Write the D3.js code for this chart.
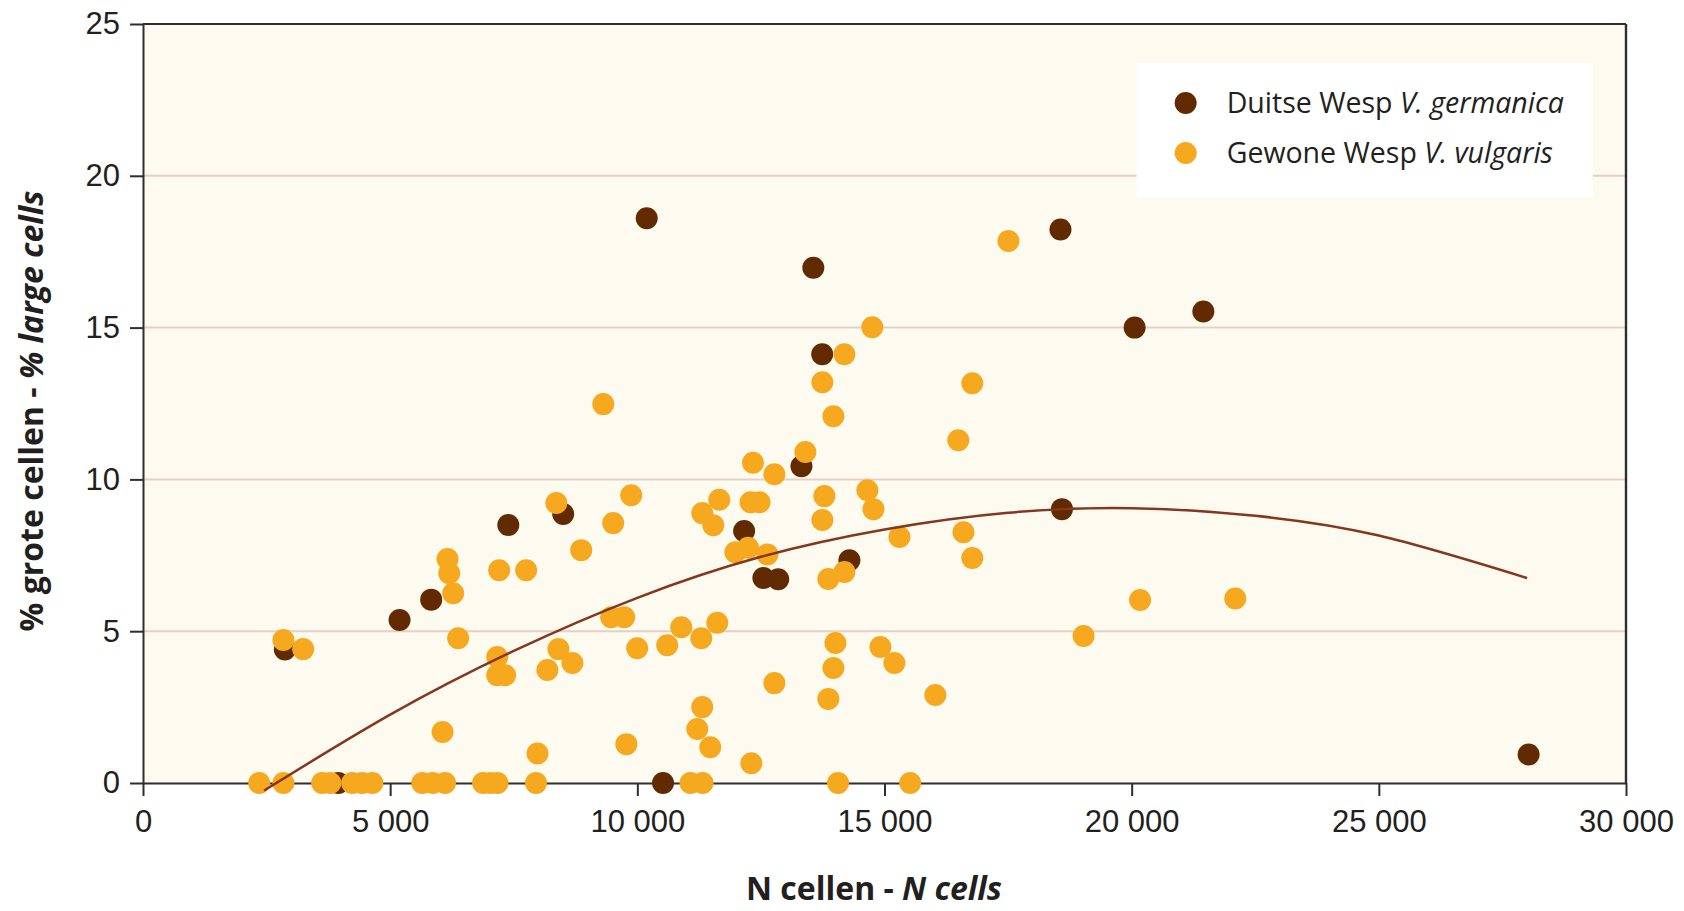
<!DOCTYPE html>
<html lang="en">
<head>
<meta charset="utf-8">
<style type="text/css">
    body { margin: 0; background: #fff; }
    svg { display: block; font-family: "Open Sans", "Noto Sans", sans-serif; }
    .axis text { fill: #231f20; font-size: 31px; }
    .axis path, .axis line { stroke: #2e2e2e; stroke-width: 2; }
    .grid line { stroke: #e7cfc5; stroke-width: 2; }
</style>
</head>
<body>
<svg width="1684" height="911"></svg>
<script src="https://d3js.org/d3.v7.min.js"></script>
<script type="text/javascript">

    // Duitse Wesp - V. germanica
    var germanicaX = [2870, 3950, 5190, 5830, 7390, 8500, 10190, 10520, 12160, 12550,
                      12850, 13320, 13560, 13740, 14290, 18560, 18590, 20060, 21450, 28030];
    var germanicaY = [4.4, 0, 5.37, 6.04, 8.5, 8.86, 18.6, 0, 8.3, 6.75,
                      6.71, 10.43, 16.97, 14.12, 7.34, 18.23, 9.02, 15.0, 15.53, 0.94];

    // Gewone Wesp - V. vulgaris
    var vulgarisX = [2350, 2840, 3625, 3790, 4230, 4430, 4640, 5650, 5860, 6110, 6880, 7030, 7170, 7950, 11075, 11320, 14060, 15520,
                     2840, 3240, 6060, 6160, 6195, 6275, 6375, 7165, 7165, 7326, 7205, 7751, 7980, 8180, 8403, 8686, 8362, 8865, 9311, 9512, 9876, 9471, 9734, 9778, 9997,
                     10604, 10888, 11293, 11617, 11313, 11212, 11475, 11313, 11536, 11658, 11983, 12240, 12630, 12290, 12472, 12340, 12772, 12772, 12306,
                     13399, 13743, 13743, 13783, 13864, 13864, 13966, 13966, 14007, 14188, 14188, 14654, 14753, 14776, 14917, 15200, 15302,
                     16028, 16493, 16597, 16776, 16776, 17507, 19028, 20170, 22096];
    var vulgarisY = [0, 0, 0, 0, 0, 0, 0, 0, 0, 0, 0, 0, 0, 0, 0, 0, 0, 0,
                     4.71, 4.41, 1.68, 7.38, 6.91, 6.25, 4.77, 4.15, 3.55, 3.55, 7.01, 7.01, 0.97, 3.72, 4.41, 3.95, 9.22, 7.67, 12.48, 8.56, 9.48, 5.46, 5.46, 1.28, 4.44,
                     4.54, 5.13, 4.77, 5.28, 2.5, 1.78, 1.18, 8.89, 8.49, 9.33, 7.6, 7.75, 7.53, 9.25, 9.25, 10.55, 10.17, 3.29, 0.65,
                     10.9, 13.2, 8.66, 9.45, 6.72, 2.77, 12.08, 3.79, 4.61, 6.95, 14.12, 9.64, 15.01, 9.02, 4.48, 3.95, 8.1,
                     2.9, 11.29, 8.26, 13.17, 7.41, 17.85, 4.84, 6.03, 6.08];

    // trend curve
    var trendX = [2450, 5000, 7500, 10000, 12500, 15000, 17500, 20000, 22500, 25000, 28000];
    var trendY = [-0.25, 2.25, 4.35, 6.1, 7.45, 8.35, 8.9, 9.05, 8.8, 8.15, 6.75];

    var xTicks = [0, 5000, 10000, 15000, 20000, 25000, 30000];
    var xTickLabels = ["0", "5 000", "10 000", "15 000", "20 000", "25 000", "30 000"];
    var yTicks = [0, 5, 10, 15, 20, 25];
    var yTickLabels = ["0", "5", "10", "15", "20", "25"];

    var seriesNames = ["Duitse Wesp ", "Gewone Wesp "];
    var seriesLatin = ["V. germanica", "V. vulgaris"];
    var colors = ["#612a00", "#f6a81e"];

    var svg = d3.select("svg"),
        margin = {top: 24, right: 58, bottom: 128, left: 143},
        width = +svg.attr("width") - margin.left - margin.right,
        height = +svg.attr("height") - margin.top - margin.bottom,
        radius = 11;

    var x = d3.scaleLinear().domain([0, 30000]).range([0, width]);
    var y = d3.scaleLinear().domain([0, 25]).range([height, 0]);

    var g = svg.append("g")
        .attr("transform", "translate(" + margin.left + "," + margin.top + ")");

    g.append("rect")
        .attr("width", width)
        .attr("height", height)
        .attr("fill", "#fdfaf0");

    g.append("g")
        .attr("class", "grid")
        .selectAll("line")
        .data(yTicks.filter(function (d) {return d > 0 && d < 25;}))
        .enter()
        .append("line")
        .attr("x1", 0)
        .attr("x2", width)
        .attr("y1", function (d) {return y(d);})
        .attr("y2", function (d) {return y(d);});

    // legend box sits over the grid, under the points
    var legend = g.append("g")
        .attr("transform", "translate(" + (x(20000) + 5) + ",39)");
    legend.append("rect")
        .attr("width", 456)
        .attr("height", 134)
        .attr("fill", "#ffffff");

    // frame: top and right border
    g.append("line")
        .attr("x1", 0).attr("x2", width)
        .attr("y1", 0).attr("y2", 0)
        .attr("stroke", "#2e2e2e").attr("stroke-width", 2);
    g.append("line")
        .attr("x1", width).attr("x2", width)
        .attr("y1", 0).attr("y2", height)
        .attr("stroke", "#2e2e2e").attr("stroke-width", 2.4);

    g.append("g")
        .attr("class", "axis")
        .attr("transform", "translate(0," + height + ")")
        .call(d3.axisBottom(x)
            .tickValues(xTicks)
            .tickFormat(function (d, i) {return xTickLabels[i];})
            .tickSize(13)
            .tickSizeOuter(0)
            .tickPadding(14));

    g.append("g")
        .attr("class", "axis")
        .call(d3.axisLeft(y)
            .tickValues(yTicks)
            .tickFormat(function (d, i) {return yTickLabels[i];})
            .tickSize(13)
            .tickSizeOuter(0)
            .tickPadding(10));

    var germanica = germanicaX.map(function (d, i) {return {x: d, y: germanicaY[i]};});
    var vulgaris = vulgarisX.map(function (d, i) {return {x: d, y: vulgarisY[i]};});
    var trend = trendX.map(function (d, i) {return {x: d, y: trendY[i]};});

    g.append("g")
        .selectAll("circle")
        .data(germanica)
        .enter()
        .append("circle")
        .attr("cx", function (d) {return x(d.x);})
        .attr("cy", function (d) {return y(d.y);})
        .attr("r", radius)
        .attr("fill", colors[0]);

    g.append("g")
        .selectAll("circle")
        .data(vulgaris)
        .enter()
        .append("circle")
        .attr("cx", function (d) {return x(d.x);})
        .attr("cy", function (d) {return y(d.y);})
        .attr("r", radius)
        .attr("fill", colors[1]);

    var line = d3.line()
        .curve(d3.curveNatural)
        .x(function (d) {return x(d.x);})
        .y(function (d) {return y(d.y);});

    g.append("path")
        .datum(trend)
        .attr("d", line)
        .attr("fill", "none")
        .attr("stroke", "#86361c")
        .attr("stroke-width", 2.5);

    // legend entries
    var items = legend.selectAll(".item")
        .data(seriesNames)
        .enter()
        .append("g")
        .attr("class", "item")
        .attr("transform", function (d, i) {return "translate(0," + (i * 50) + ")";});
    items.append("circle")
        .attr("cx", 49)
        .attr("cy", 40)
        .attr("r", radius)
        .attr("fill", function (d, i) {return colors[i];});
    var itemText = items.append("text")
        .attr("x", 90)
        .attr("y", 50)
        .attr("font-size", 28.5)
        .attr("fill", "#231f20");
    itemText.append("tspan").text(function (d) {return d;});
    itemText.append("tspan")
        .attr("font-style", "italic")
        .text(function (d, i) {return seriesLatin[i];});

    // axis titles
    var xTitle = svg.append("text")
        .attr("x", 874)
        .attr("y", 900)
        .attr("text-anchor", "middle")
        .attr("font-size", 32)
        .attr("font-weight", "bold")
        .attr("fill", "#231f20");
    xTitle.append("tspan").text("N cellen - ");
    xTitle.append("tspan").attr("font-style", "italic").text("N cells");

    var yTitle = svg.append("text")
        .attr("transform", "translate(43,411) rotate(-90)")
        .attr("text-anchor", "middle")
        .attr("font-size", 32)
        .attr("font-weight", "bold")
        .attr("fill", "#231f20");
    yTitle.append("tspan").text("% grote cellen - ");
    yTitle.append("tspan").attr("font-style", "italic").text("% large cells");

</script>
</body>
</html>
